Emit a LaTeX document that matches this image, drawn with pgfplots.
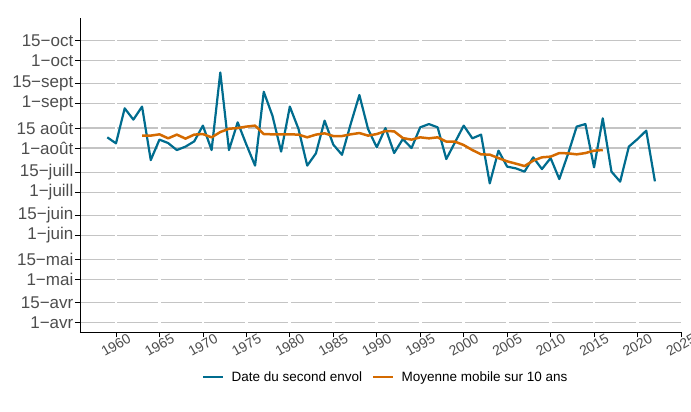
\documentclass[border=0pt]{standalone}
\usepackage{fontspec}
\setmainfont{Liberation Sans}
\usepackage{pgfplots}
\usepackage{pgfplotstable}
\pgfplotsset{compat=1.18}
\definecolor{cblue}{HTML}{006C8E}
\definecolor{corange}{HTML}{D46A00}
\definecolor{gridgray}{HTML}{C4C4C4}
\definecolor{labgray}{HTML}{4D4D4D}

\pgfplotstableread{
year day
1959 220.5
1960 216.3
1961 240.8
1962 232.9
1963 242.0
1964 204.6
1965 218.9
1966 216.5
1967 211.6
1968 214.0
1969 217.7
1970 228.7
1971 211.6
1972 265.9
1973 211.6
1974 231.0
1975 215.4
1976 200.7
1977 252.4
1978 235.6
1979 210.5
1980 242.0
1981 226.3
1982 200.7
1983 209.3
1984 232.2
1985 215.4
1986 208.3
1987 229.8
1988 250.1
1989 226.3
1990 213.5
1991 227.0
1992 209.5
1993 219.3
1994 213.0
1995 227.5
1996 229.8
1997 227.5
1998 205.3
1999 217.0
2000 228.7
2001 219.8
2002 222.4
2003 188.3
2004 211.2
2005 200.0
2006 198.8
2007 196.5
2008 206.5
2009 198.3
2010 206.0
2011 191.3
2012 208.8
2013 228.0
2014 229.8
2015 199.5
2016 233.8
2017 196.5
2018 189.5
2019 214.0
2020 219.3
2021 225.2
2022 189.7
}\envol

\pgfplotstableread{
year day
1963 221.7
1964 221.7
1965 222.6
1966 219.8
1967 222.4
1968 219.6
1969 222.4
1970 222.8
1971 220.5
1972 224.2
1973 226.5
1974 227.0
1975 228.0
1976 228.7
1977 222.8
1978 222.6
1979 222.6
1980 222.6
1981 222.4
1982 220.5
1983 222.4
1984 223.3
1985 221.4
1986 221.4
1987 222.6
1988 223.5
1989 221.7
1990 222.8
1991 224.9
1992 224.7
1993 220.0
1994 218.9
1995 220.5
1996 219.8
1997 220.5
1998 217.5
1999 217.5
2000 215.1
2001 211.6
2002 208.6
2003 208.4
2004 206.0
2005 203.7
2006 202.1
2007 200.4
2008 204.2
2009 206.5
2010 207.0
2011 209.5
2012 209.3
2013 208.6
2014 209.5
2015 211.2
2016 211.6
}\moyenne

\begin{document}
\begin{tikzpicture}
\useasboundingbox (-80bp,-80bp) rectangle (611bp,332bp);
\begin{axis}[
  at={(0,0)}, anchor=south west,
  scale only axis, width=601bp, height=314bp,
  xmin=1955.86, xmax=2025, ymin=84.3, ymax=304,
  axis lines*=left,
  axis line style={black, line width=0.9bp},
  xtick={1960,1965,...,2025},
  ytick={91,105,121,135,152,166,182,196,213,227,244,258,274,288},
  yticklabels={1−avr,15−avr,1−mai,15−mai,1−juin,15−juin,1−juill,15−juill,1−août,15 août,1−sept,15−sept,1−oct,15−oct},
  ymajorgrids,
  y grid style={gridgray, line width=1.2bp},
  tick align=outside,
  major tick length=5bp,
  tick style={black, line width=0.8bp},
  xminorticks=false, yminorticks=false,
  /pgf/number format/assume math mode=true,
  xticklabel={\pgfmathprintnumber[1000 sep={}]{\tick}},
  ticklabel style={text=labgray},
  yticklabel style={inner sep=1.5bp, font=\fontsize{17bp}{19bp}\selectfont},
  xticklabel style={font=\fontsize{14bp}{16bp}\selectfont, yshift=-8bp, rotate=30, anchor=center},
  legend style={at={(0.509,-0.143)}, anchor=center, draw=none, fill=none,
    legend columns=2, font=\fontsize{13.5bp}{15bp}\selectfont,
    /tikz/every even column/.append style={column sep=8bp}},
  legend image code/.code={\draw[#1] (0bp,0bp) -- (20bp,0bp); \path (25bp,0bp);},
]
\pgfplotsinvokeforeach{1960,1965,...,2020}{
  \draw[white, line width=2.8bp] (axis cs:#1,84.3) -- (axis cs:#1,304);
}
\addplot[cblue, line width=2.2bp, line join=round] table[x=year, y=day] {\envol};
\addlegendentry{Date du second envol}
\addplot[corange, line width=2.5bp, line join=round] table[x=year, y=day] {\moyenne};
\addlegendentry{Moyenne mobile sur 10 ans}
\end{axis}
\end{tikzpicture}
\end{document}
